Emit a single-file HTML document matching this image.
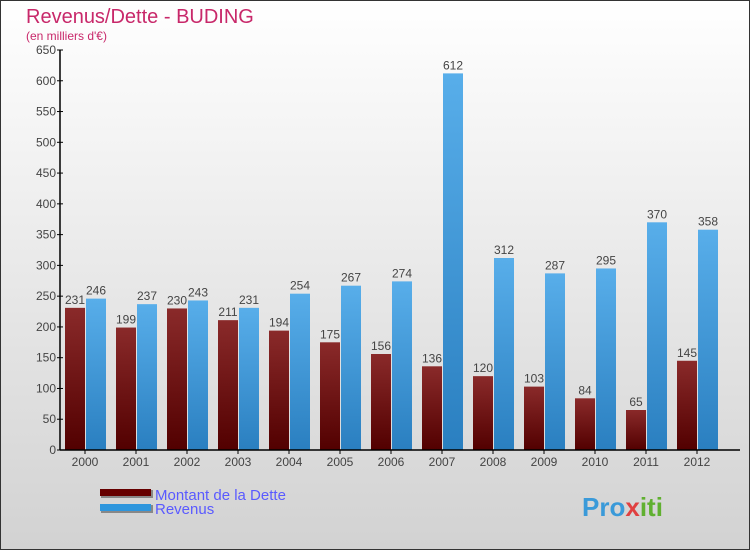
<!DOCTYPE html>
<html><head><meta charset="utf-8"><style>
body{margin:0}
#c{width:750px;height:550px;position:relative;overflow:hidden;font-family:"Liberation Sans","DejaVu Sans",sans-serif}
</style></head><body>
<div id="c">
<svg id="s" width="750" height="550" xmlns="http://www.w3.org/2000/svg">
<defs>
<linearGradient id="bg" x1="0" y1="0" x2="0" y2="1"><stop offset="0" stop-color="#ffffff"/><stop offset="1" stop-color="#d2d2d2"/></linearGradient>
<linearGradient id="gd" x1="0" y1="0" x2="0" y2="1"><stop offset="0" stop-color="#8a2a2a"/><stop offset="1" stop-color="#520000"/></linearGradient>
<linearGradient id="gr" x1="0" y1="0" x2="0" y2="1"><stop offset="0" stop-color="#58aeea"/><stop offset="1" stop-color="#2a7fc0"/></linearGradient>
</defs>
<rect x="0.5" y="0.5" width="749" height="549" fill="url(#bg)" stroke="#333"/>
<text x="26" y="23" font-size="20" fill="#c8286a">Revenus/Dette - BUDING</text>
<text x="26" y="40" font-size="12" fill="#c8286a">(en milliers d'€)</text>
<g id="plot"></g>
<rect x="101" y="490" width="52" height="8" fill="#888"/>
<rect x="100" y="489" width="51" height="7" fill="#660000"/>
<text x="155" y="500" font-size="15" fill="#5a5aff">Montant de la Dette</text>
<rect x="101" y="505" width="52" height="8" fill="#888"/>
<rect x="100" y="504" width="51" height="7" fill="#2e96dd"/>
<text x="155" y="514" font-size="15" fill="#5a5aff">Revenus</text>
<text x="582" y="516" font-size="26" font-weight="bold" fill="#f0a020"><tspan fill="#3a9ad9">Pro</tspan><tspan fill="#e04040">x</tspan><tspan fill="#60b030">iti</tspan></text>
</svg>
</div>
<script>
const years=["2000","2001","2002","2003","2004","2005","2006","2007","2008","2009","2010","2011","2012"];
const dette=[231,199,230,211,194,175,156,136,120,103,84,65,145];
const revenus=[246,237,243,231,254,267,274,612,312,287,295,370,358];
const yTicks=[0,50,100,150,200,250,300,350,400,450,500,550,600,650];
const NS="http://www.w3.org/2000/svg";
const g=document.getElementById('plot');
const x0=60,step=51,yb=450,yt=50,ymax=650;
const y=v=>yb-(v/ymax)*(yb-yt);
const xc=i=>x0+25+i*step;
function mk(t,a){const e=document.createElementNS(NS,t);for(const k in a)e.setAttribute(k,a[k]);g.appendChild(e);return e;}
yTicks.forEach(v=>{
 const l=mk('line',{x1:x0-3,x2:x0+3,y1:y(v),y2:y(v),stroke:'#000'});
 
 
 const t=mk('text',{x:x0-4,y:y(v)+4,'font-size':12,'text-anchor':'end',fill:'#444'});t.textContent=v;
 
 
});
years.forEach((yr,i)=>{
 const c=xc(i);
 const b1=mk('rect',{x:c-20,y:y(dette[i]),width:20,height:yb-y(dette[i]),fill:'url(#gd)'});
 
 
 const b2=mk('rect',{x:c+1,y:y(revenus[i]),width:20,height:yb-y(revenus[i]),fill:'url(#gr)'});
 
 
 const t1=mk('text',{x:c-10,y:y(dette[i])-4,'font-size':12,'text-anchor':'middle',fill:'#444'});t1.textContent=dette[i];
 
 
 const t2=mk('text',{x:c+11,y:y(revenus[i])-4,'font-size':12,'text-anchor':'middle',fill:'#444'});t2.textContent=revenus[i];
 
 
 const tk=mk('line',{x1:c,x2:c,y1:yb,y2:yb+4,stroke:'#000'});
 
 
 const xl=mk('text',{x:c,y:yb+16,'font-size':12,'text-anchor':'middle',fill:'#444'});xl.textContent=yr;
 
 
});
const ax=mk('line',{x1:x0,x2:x0,y1:yt,y2:yb,stroke:'#000','stroke-width':1.5});


const bx=mk('line',{x1:x0,x2:740,y1:yb,y2:yb,stroke:'#000','stroke-width':1.5});


</script>
</body></html>
